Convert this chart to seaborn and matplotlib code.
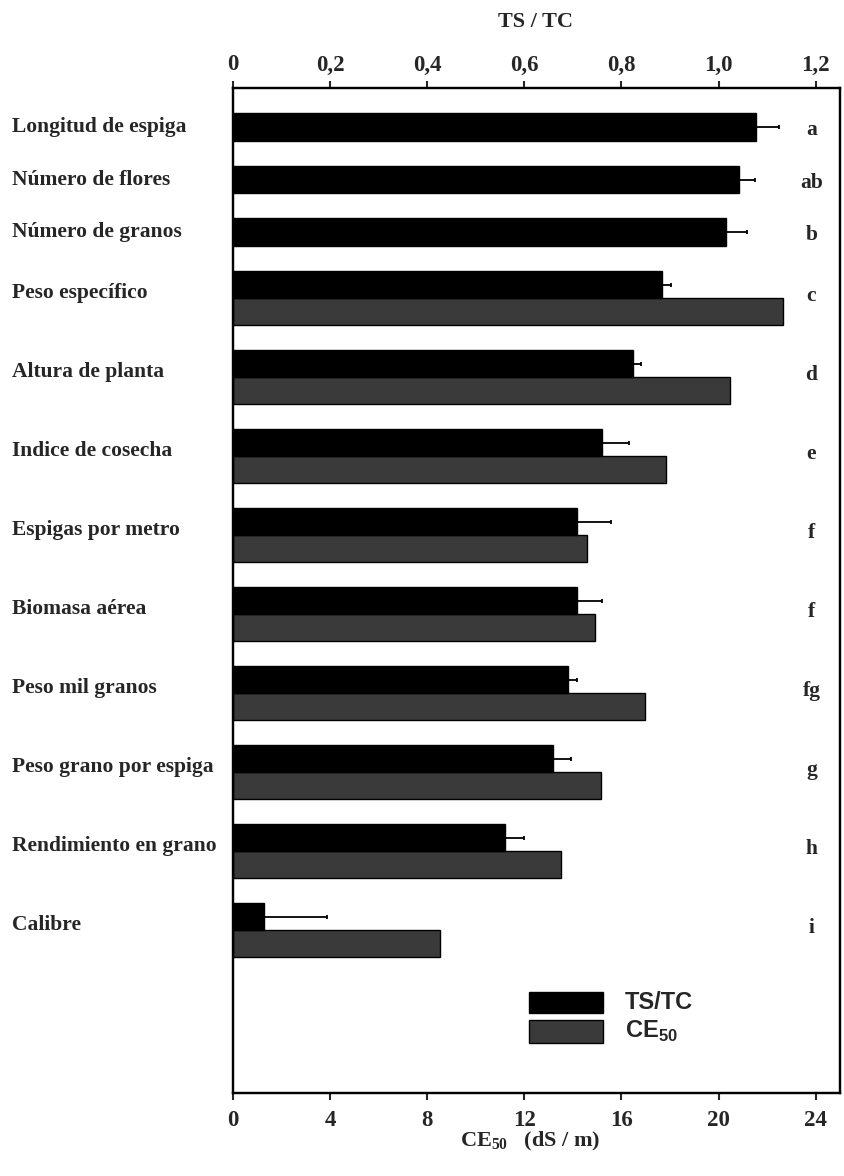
import numpy as np
import pandas as pd
import matplotlib
matplotlib.use("Agg")
import matplotlib.pyplot as plt
import matplotlib.transforms as mtransforms
from matplotlib.patches import Rectangle
import seaborn as sns

# ---- data -----------------------------------------------------------------
categories = [
    "Longitud de espiga", "Número de flores", "Número de granos",
    "Peso específico", "Altura de planta", "Indice de cosecha",
    "Espigas por metro", "Biomasa aérea", "Peso mil granos",
    "Peso grano por espiga", "Rendimiento en grano", "Calibre",
]
ts_tc = [1.076, 1.041, 1.016, 0.883, 0.824, 0.760, 0.709, 0.709, 0.689, 0.660, 0.561, 0.064]
ts_tc_err = [0.049, 0.033, 0.043, 0.020, 0.016, 0.055, 0.070, 0.051, 0.020, 0.037, 0.039, 0.129]
ce50 = [np.nan, np.nan, np.nan, 22.66, 20.45, 17.83, 14.59, 14.92, 16.97, 15.16, 13.52, 8.52]
letters = ["a", "ab", "b", "c", "d", "e", "f", "f", "fg", "g", "h", "i"]

ts_ticks = [0, 0.2, 0.4, 0.6, 0.8, 1.0, 1.2]
ts_ticklabels = ["0", "0,2", "0,4", "0,6", "0,8", "1,0", "1,2"]
ce_ticks = [0, 4, 8, 12, 16, 20, 24]
ce_ticklabels = ["0", "4", "8", "12", "16", "20", "24"]

# ---- style ----------------------------------------------------------------
sns.set_theme(style="ticks")
plt.rcParams["font.family"] = ["Liberation Serif", "DejaVu Serif"]
plt.rcParams["font.weight"] = "bold"
plt.rcParams["mathtext.fontset"] = "custom"
plt.rcParams["mathtext.rm"] = "Liberation Serif:bold"
plt.rcParams["mathtext.bf"] = "Liberation Serif:bold"
plt.rcParams["mathtext.sf"] = "Liberation Sans:bold"

GRAY = "#3a3a3a"
LABEL_SIZE = 15.5
TICK_SIZE = 16.5

# ---- row layout (vertical units: single rows first, then paired rows) ------
n_single = 3
single_step, pair_step = 52.5, 79.0
bar_h = 27.0
black_pos, gray_pos, label_pos = [], [], []
for i in range(len(categories)):
    if i < n_single:
        c = 127 + single_step * i
        black_pos.append(c)
        gray_pos.append(np.nan)
        label_pos.append(c)
    else:
        b = 298 + pair_step * (i - n_single)
        black_pos.append(b - bar_h / 2)
        gray_pos.append(b + bar_h / 2)
        label_pos.append(b - 5)

df_black = pd.DataFrame({"ts": ts_tc, "pos": black_pos})
df_gray = pd.DataFrame({"ce": ce50, "pos": gray_pos}).dropna()

W, H = 844, 1176
fig = plt.figure(figsize=(W / 100, H / 100), dpi=100)
left, right, top, bottom = 233, 840, 88, 1093
ax = fig.add_axes([left / W, 1 - bottom / H, (right - left) / W, (bottom - top) / H])
ax2 = ax.twiny()

# CE50 bars on the bottom axis
sns.barplot(data=df_gray, x="ce", y="pos", orient="y", native_scale=True,
            width=bar_h / pair_step, color=GRAY, saturation=1,
            edgecolor="black", linewidth=1.0, errorbar=None, ax=ax)
# TS/TC bars on the top axis
sns.barplot(data=df_black, x="ts", y="pos", orient="y", native_scale=True,
            width=(bar_h + 0.5) / single_step, color="black", saturation=1,
            edgecolor="black", linewidth=1.0, errorbar=None, ax=ax2)
ax2.errorbar(ts_tc, black_pos, xerr=[np.zeros(len(ts_tc)), ts_tc_err],
             fmt="none", ecolor="black", elinewidth=1.3, capsize=1.5, capthick=1.3)

ax.set_xlim(0, 25)
ax2.set_xlim(0, 1.25)
ax.set_ylim(bottom, top)

ax.set_xticks(ce_ticks)
ax.set_xticklabels(ce_ticklabels)
ax2.set_xticks(ts_ticks)
ax2.set_xticklabels(ts_ticklabels)
ax.set_yticks([])
for a in (ax, ax2):
    a.set_xlabel("")
    a.set_ylabel("")
    for s in a.spines.values():
        s.set_linewidth(1.6)
        s.set_color("black")
ax.tick_params(axis="x", direction="out", length=5, width=1.5, labelsize=TICK_SIZE, pad=7)
ax2.tick_params(axis="x", direction="out", length=5, width=1.5, labelsize=TICK_SIZE, pad=4)
for lab in ax.get_xticklabels() + ax2.get_xticklabels():
    lab.set_fontweight("bold")

# category labels (left aligned at the figure edge) and significance letters
trans_lbl = mtransforms.blended_transform_factory(fig.transFigure, ax.transData)
trans_let = mtransforms.blended_transform_factory(ax.transAxes, ax.transData)
for name, y, let in zip(categories, label_pos, letters):
    ax.text(12 / W, y, name, transform=trans_lbl, ha="left", va="center",
            fontsize=LABEL_SIZE, fontweight="bold")
    ax.text(0.953, y + 3, let, transform=trans_let, ha="center", va="center",
            fontsize=LABEL_SIZE, fontweight="bold")

# axis titles
fig.text(536 / W, 1 - 22 / H, "TS / TC", ha="center", va="center",
         fontsize=16, fontweight="bold")
fig.text(530 / W, 1 - 1141 / H, r"$\mathbf{CE}_{\mathbf{50}}$   (dS / m)",
         ha="center", va="center", fontsize=16, fontweight="bold")

# legend key: two swatches with their labels
legend_items = [("black", "TS/TC", 992, 1013),
                (GRAY, r"$\mathsf{CE}_{\mathsf{50}}$", 1020, 1043)]
for col, txt, y0, y1 in legend_items:
    fig.patches.append(Rectangle((529 / W, 1 - y1 / H), 74 / W, (y1 - y0) / H,
                                 transform=fig.transFigure, facecolor=col,
                                 edgecolor="black", linewidth=1.0))
    fig.text(625 / W, 1 - (y0 + y1) / 2 / H, txt, ha="left", va="center",
             family="Liberation Sans", fontweight="bold", fontsize=17)

fig.savefig("out.png", dpi=100)
